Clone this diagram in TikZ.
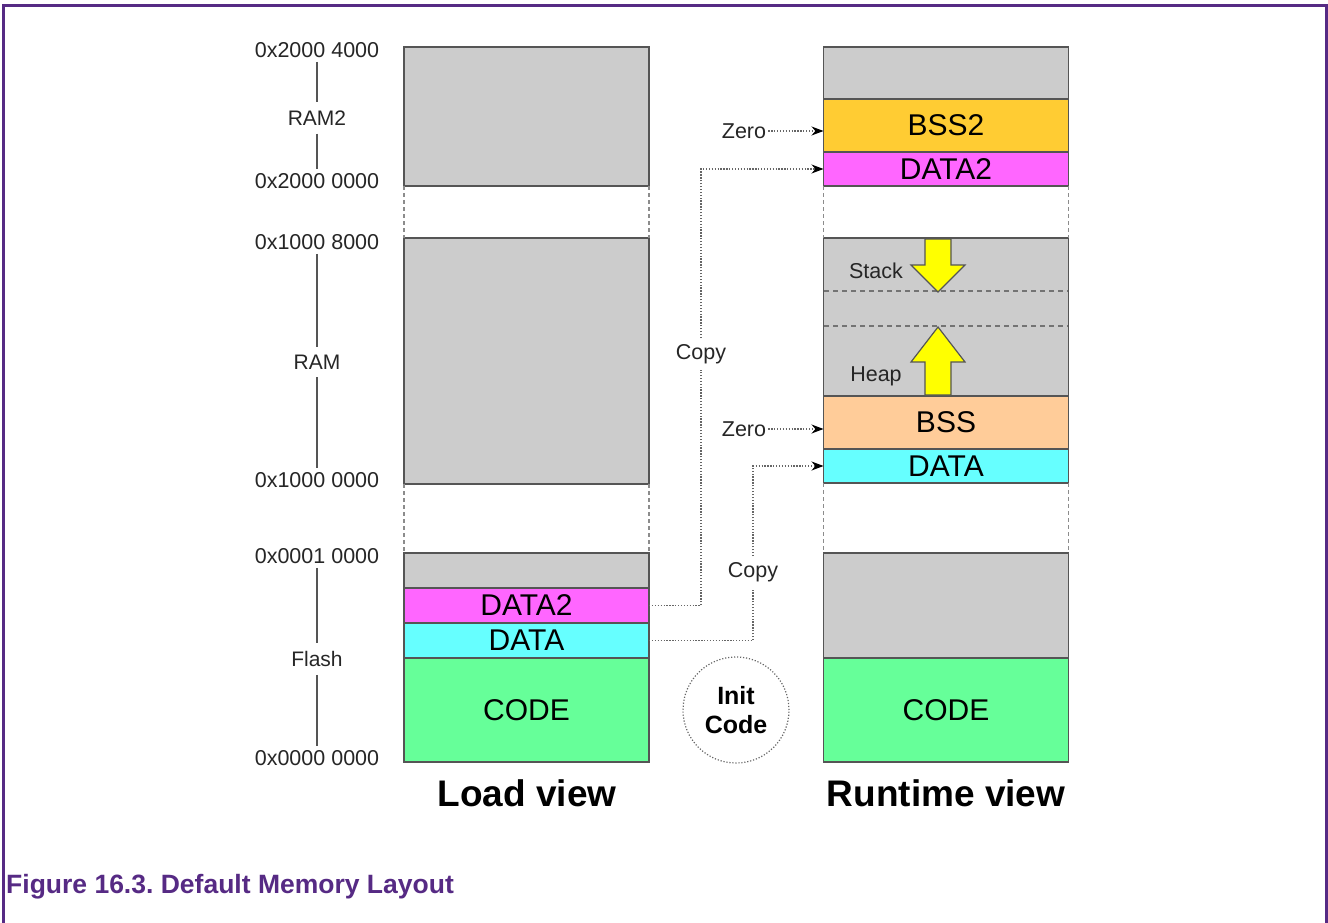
\documentclass[tikz,border=0pt]{standalone}
\usepackage{fontspec}
\setmainfont{Liberation Sans}
\usetikzlibrary{arrows.meta,shapes.geometric}
\definecolor{memgray}{HTML}{CCCCCC}
\definecolor{boxline}{HTML}{555555}
\definecolor{bsstwo}{HTML}{FFCC33}
\definecolor{datatwo}{HTML}{FF66FF}
\definecolor{datacyan}{HTML}{66FFFF}
\definecolor{codegreen}{HTML}{66FF99}
\definecolor{bsspeach}{HTML}{FFCC99}
\definecolor{arrowyellow}{HTML}{FFFF00}
\definecolor{framepurple}{HTML}{562A84}
\definecolor{dotgray}{HTML}{666666}
\newcommand{\fsz}[2]{\fontsize{#1}{#2}\selectfont}
\frenchspacing
\begin{document}
\begin{tikzpicture}[x=1pt,y=-1pt,
  seg/.style={draw=boxline, line width=1.5pt, minimum width=245pt, inner sep=0pt, outer sep=0pt, font=\fsz{30}{34}},
  freeseg/.style={seg, fill=memgray},
  addr/.style={font=\fsz{21.5}{25}, inner sep=4pt, text=black!85},
  region/.style={font=\fsz{21}{25}, inner sep=8pt, text=black!85},
  scale line/.style={draw=boxline, line width=1.3pt},
  gapline/.style={draw=black!45, line width=1.3pt, dash pattern=on 4pt off 3pt},
  midline/.style={draw=black!55, line width=1.3pt, dash pattern=on 5pt off 4pt},
  smalllbl/.style={font=\fsz{21.5}{25}, inner sep=2pt, text=black!85},
  copylbl/.style={font=\fsz{21.5}{25}, inner sep=6pt, text=black!85},
  dotconn/.style={draw=dotgray, line width=1.3pt, dash pattern=on 1.3pt off 1.6pt},
  dotarrow/.style={dotconn, -{Stealth[length=12pt,width=9pt,black]}},
  viewlbl/.style={font=\fsz{37}{42}\bfseries, inner sep=0pt},
  yellowarrow/.style={fill=arrowyellow, draw=boxline, line width=1.2pt, line join=miter}
]
\useasboundingbox (0,0) rectangle (1328,923);

% frame
\draw[framepurple, line width=3pt] (3,923) -- (3,6) -- (1326.5,6) -- (1326.5,923);

% ---------- Load view ----------
\node[freeseg, minimum height=139pt] (Lram2) at (526.5,116.5) {};
\node[freeseg, minimum height=246pt] (Lram) at (526.5,361) {};
\node[freeseg, minimum height=35pt] (Lfree) at (526.5,570.5) {};
\node[seg, fill=datatwo, minimum height=35pt] (Ldata2) at (526.5,605.5) {DATA2};
\node[seg, fill=datacyan, minimum height=35pt] (Ldata) at (526.5,640.5) {DATA};
\node[seg, fill=codegreen, minimum height=104pt] (Lcode) at (526.5,710) {CODE};

\draw[gapline] (Lram2.south west) -- (Lram.north west);
\draw[gapline] (Lram2.south east) -- (Lram.north east);
\draw[gapline] (Lram.south west) -- (Lfree.north west);
\draw[gapline] (Lram.south east) -- (Lfree.north east);

% ---------- Runtime view ----------
\node[freeseg, minimum height=52pt] (Rtop) at (946,73) {};
\node[seg, fill=bsstwo, minimum height=53pt] (Rbss2) at (946,125.5) {BSS2};
\node[seg, fill=datatwo, minimum height=34pt] (Rdata2) at (946,169) {DATA2};
\node[freeseg, minimum height=158pt] (Rram) at (946,317) {};
\node[seg, fill=bsspeach, minimum height=53pt] (Rbss) at (946,422.5) {BSS};
\node[seg, fill=datacyan, minimum height=34pt] (Rdata) at (946,466) {DATA};
\node[freeseg, minimum height=105pt] (Rfree) at (946,605.5) {};
\node[seg, fill=codegreen, minimum height=104pt] (Rcode) at (946,710) {CODE};

\draw[gapline] (Rdata2.south west) -- (Rram.north west);
\draw[gapline] (Rdata2.south east) -- (Rram.north east);
\draw[gapline] (Rdata.south west) -- (Rfree.north west);
\draw[gapline] (Rdata.south east) -- (Rfree.north east);

% stack / heap limits
\coordinate (s1w) at (824,291);
\coordinate (s1e) at (1068,291);
\coordinate (s2w) at (824,326);
\coordinate (s2e) at (1068,326);
\draw[midline] (s1w) -- (s1e);
\draw[midline] (s2w) -- (s2e);

% stack arrow (down)
\draw[yellowarrow] (925,239) -- (951,239) -- (951,265) -- (965,265) -- (938,292) -- (911,265) -- (925,265) -- cycle;
% heap arrow (up)
\draw[yellowarrow] (925,395) -- (925,362) -- (911,362) -- (938,327) -- (965,362) -- (951,362) -- (951,395) -- cycle;

\node[smalllbl] (stack) at (876,271) {Stack};
\node[smalllbl] (heap) at (876,376) {Heap};

% ---------- address scale ----------
\node[addr] (a1) at (317,50) {0x2000 4000};
\node[region] (ram2lbl) at (317,118) {RAM2};
\node[addr] (a2) at (317,181) {0x2000 0000};
\node[addr] (a3) at (317,242) {0x1000 8000};
\node[region] (ramlbl) at (317,362) {RAM};
\node[addr] (a4) at (317,480) {0x1000 0000};
\node[addr] (a5) at (317,556) {0x0001 0000};
\node[region] (flashlbl) at (317,659) {Flash};
\node[addr] (a6) at (317,758) {0x0000 0000};

\draw[scale line] (a1.south) -- (ram2lbl.north);
\draw[scale line] (ram2lbl.south) -- (a2.north);
\draw[scale line] (a3.south) -- (ramlbl.north);
\draw[scale line] (ramlbl.south) -- (a4.north);
\draw[scale line] (a5.south) -- (flashlbl.north);
\draw[scale line] (flashlbl.south) -- (a6.north);

% ---------- zero / copy connectors ----------
\node[smalllbl] (zero1) at (744,131) {Zero};
\node[smalllbl] (zero2) at (744,429) {Zero};
\draw[dotarrow] (zero1.east) -- (zero1.east -| Rbss2.west);
\draw[dotarrow] (zero2.east) -- (zero2.east -| Rbss.west);

\node[copylbl] (copy1) at (701,354) {Copy};
\node[copylbl] (copy2) at (753,572) {Copy};
\draw[dotconn] (Ldata2.east) -| (copy1.south);
\draw[dotarrow] (copy1.north) |- (Rdata2.west);
\draw[dotconn] (Ldata.east) -| (copy2.south);
\draw[dotarrow] (copy2.north) |- (Rdata.west);

% init code
\node[circle, draw=dotgray, line width=1.2pt, dash pattern=on 1.2pt off 1.8pt, minimum size=106pt, inner sep=0pt, align=center, font=\fsz{25}{29}\bfseries] (init) at (736,710) {Init\\Code};

% view titles
\node[viewlbl] (loadview) at (527,793) {Load view};
\node[viewlbl] (runview) at (946,793) {Runtime view};

% caption
\node[anchor=west, inner sep=0pt, font=\fsz{26.5}{30}\bfseries, text=framepurple] (caption) at (6,887) {Figure 16.3. Default Memory Layout};
\end{tikzpicture}
\end{document}
